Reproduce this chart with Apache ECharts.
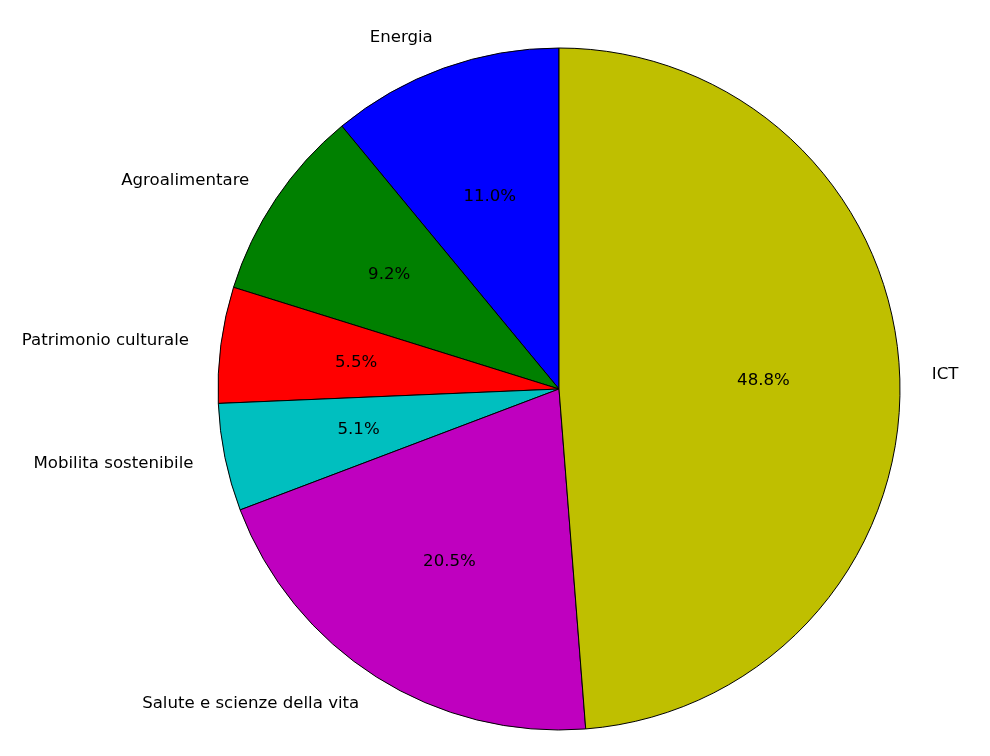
<!DOCTYPE html>
<html>
<head>
<meta charset="utf-8">
<script src="https://cdn.jsdelivr.net/npm/echarts@6/dist/echarts.min.js"></script>
<style>html,body{margin:0;padding:0;background:#fff}#c{width:990px;height:756px}</style>
</head>
<body>
<div id="c"></div>
<script>
const categories = ['Energia', 'Agroalimentare', 'Patrimonio culturale', 'Mobilita sostenibile', 'Salute e scienze della vita', 'ICT'];
const values = [11.0, 9.2, 5.5, 5.1, 20.5, 48.8];
const colors = ['#0000ff', '#008000', '#ff0000', '#00bfbf', '#bf00bf', '#bfbf00'];

const R = 341;
const center = [559, 389];
const font = 'DejaVu Sans';
const fs = 16.6;

const mainData = categories.map((c, i) => ({ name: c, value: values[i], itemStyle: { color: colors[i] } }));
const pctData = categories.map((c, i) => ({ name: c, value: values[i] }));

const chart = echarts.init(document.getElementById('c'), null, { renderer: 'canvas' });
chart.setOption({
  backgroundColor: '#ffffff',
  animation: false,
  series: [
    {
      type: 'pie',
      center: center,
      radius: [0, R],
      startAngle: 90,
      clockwise: false,
      avoidLabelOverlap: false,
      silent: true,
      itemStyle: { borderColor: '#000', borderWidth: 1 },
      label: {
        show: true,
        position: 'outside',
        formatter: '{b}',
        color: '#000',
        fontFamily: font,
        fontSize: fs,
        distanceToLabelLine: 0
      },
      labelLine: { show: false, length: R * 0.1 - 2, length2: 0 },
      data: mainData
    },
    {
      type: 'pie',
      center: center,
      radius: [0, 2 * (R * 0.6 - 3)],
      startAngle: 90,
      clockwise: false,
      avoidLabelOverlap: false,
      silent: true,
      z: 5,
      itemStyle: { color: 'rgba(0,0,0,0)', borderWidth: 0 },
      label: {
        show: true,
        position: 'inside',
        formatter: p => p.value.toFixed(1) + '%',
        color: '#000',
        fontFamily: font,
        fontSize: fs
      },
      labelLine: { show: false },
      data: pctData
    }
  ]
});
</script>
</body>
</html>
